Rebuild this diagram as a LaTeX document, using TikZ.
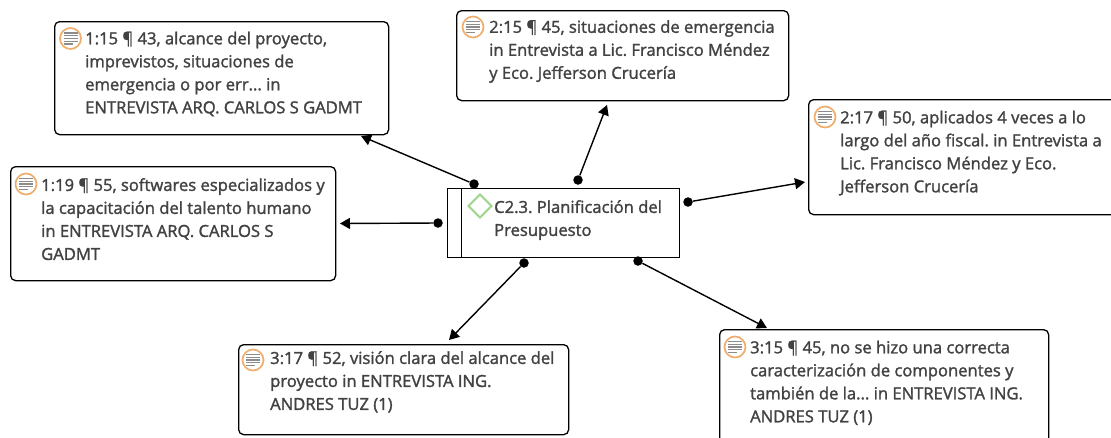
\documentclass[tikz,border=0pt]{standalone}
\usepackage{fontspec}
\setmainfont{Open Sans}[FakeBold=1.6]
\usetikzlibrary{arrows.meta}
\definecolor{txt}{HTML}{424242}
\definecolor{ring}{HTML}{EFAE6E}
\definecolor{lines}{HTML}{8C8C8C}
\definecolor{dia}{HTML}{9BD58A}
\tikzset{
  x=1pt,y=-1pt,
  quote/.style={draw=black,line width=1.3pt,rounded corners=5pt,fill=white,inner sep=0pt},
  codebox/.style={draw=black,line width=1.3pt,fill=white,inner sep=0pt},
  lbl/.style={anchor=north west,inner sep=0pt,text=txt,align=left,font=\fontsize{16.6}{23}\selectfont\frenchspacing},
  dotn/.style={circle,fill=black,inner sep=0pt,minimum size=9.5pt},
  conn/.style={line width=1.4pt,-{Triangle[length=10pt,width=11pt]}},
  ringst/.style={draw=ring,line width=1.7pt,fill=white},
  linest/.style={draw=lines,line width=1.1pt},
}
\newcommand\qicon[2]{%
  \begin{scope}[shift={(#1,#2)}]
    \draw[ringst] (0,0) circle (10.5);
    \draw[linest] (-7,-5.5)--(7,-5.5) (-7,-2.8)--(7,-2.8) (-7,0)--(7,0) (-7,2.8)--(7,2.8) (-7,5.5)--(2,5.5);
  \end{scope}}
\begin{document}
\begin{tikzpicture}
\useasboundingbox (0,0) rectangle (1111,437);
\fill[white] (0,0) rectangle (1111,437);
% boxes
\node[quote,minimum width=334pt,minimum height=113pt,anchor=north west] (a) at (54,21) {};
\node[quote,minimum width=325pt,minimum height=114pt,anchor=north west] (b) at (10,166) {};
\node[quote,minimum width=332pt,minimum height=90pt,anchor=north west] (c) at (456,10) {};
\node[quote,minimum width=320pt,minimum height=115pt,anchor=north west] (d) at (808,99) {};
\node[quote,minimum width=330pt,minimum height=90pt,anchor=north west] (e) at (238,344) {};
\node[quote,minimum width=329pt,minimum height=130pt,anchor=north west] (f) at (719,329) {};
\node[codebox,minimum width=232pt,minimum height=69pt,anchor=north west] (g) at (447,188) {};
\draw[line width=1pt] (461,188) -- (461,257);
% labels
\node[lbl] (la) at (85,31.5) {1:15 ¶ 43, alcance del proyecto,\\imprevistos, situaciones de\\emergencia o por err... in\\ENTREVISTA ARQ. CARLOS S GADMT};
\node[lbl] (lb) at (41,178) {1:19 ¶ 55, softwares especializados y\\la capacitación del talento humano\\in ENTREVISTA ARQ. CARLOS S\\GADMT};
\node[lbl] (lc) at (489,20) {2:15 ¶ 45, situaciones de emergencia\\in Entrevista a Lic. Francisco Méndez\\y Eco. Jefferson Crucería};
\node[lbl] (ld) at (840,110.5) {2:17 ¶ 50, aplicados 4 veces a lo\\largo del año fiscal. in Entrevista a\\Lic. Francisco Méndez y Eco.\\Jefferson Crucería};
\node[lbl] (le) at (270,351) {3:17 ¶ 52, visión clara del alcance del\\proyecto in ENTREVISTA ING.\\ANDRES TUZ (1)};
\node[lbl] (lf) at (750,340.5) {3:15 ¶ 45, no se hizo una correcta\\caracterización de componentes y\\también de la... in ENTREVISTA ING.\\ANDRES TUZ (1)};
\node[lbl] (lg) at (494,200) {C2.3. Planificación del\\Presupuesto};
% icons
\qicon{70.5}{38.5}
\qicon{26}{184}
\qicon{473}{27}
\qicon{825}{117}
\qicon{253}{360}
\qicon{735}{347}
\draw[draw=dia,line width=1.9pt] (480,194.5) -- (491.5,206) -- (480,217.5) -- (468.5,206) -- cycle;
% connector ends
\node[dotn] (da) at (474,184) {};
\node[dotn] (db) at (438,223) {};
\node[dotn] (dc) at (578,180) {};
\node[dotn] (dd) at (688,202) {};
\node[dotn] (de) at (524,263) {};
\node[dotn] (df) at (638,261) {};
\coordinate (ta) at (361,136);
\coordinate (tb) at (340,223.5);
\coordinate (tc) at (607,105);
\coordinate (td) at (805,182);
\coordinate (te) at (449,340);
\coordinate (tf) at (767,328);
\draw[conn] (da) -- (ta);
\draw[conn] (db) -- (tb);
\draw[conn] (dc) -- (tc);
\draw[conn] (dd) -- (td);
\draw[conn] (de) -- (te);
\draw[conn] (df) -- (tf);
\end{tikzpicture}
\end{document}
